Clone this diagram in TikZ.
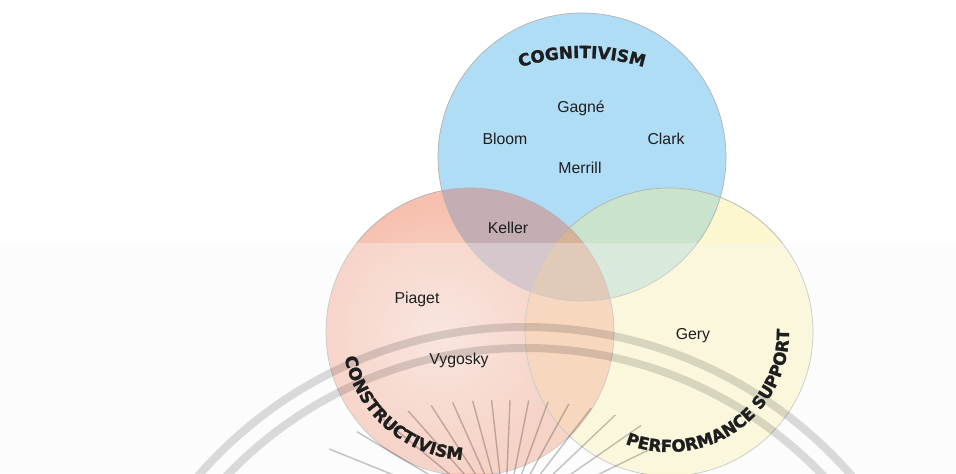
\documentclass[tikz,border=0pt]{standalone}
\usepackage{fontspec}
\setmainfont{Liberation Sans}
\newfontfamily\titlefont[BoldFeatures={FakeBold=1.6}]{DejaVu Sans}
\usepackage{xcolor}
\usetikzlibrary{
  calc,
  decorations.text
}
\definecolor{cogblue}{RGB}{176,221,246}
\definecolor{conred}{RGB}{246,192,174}
\definecolor{conglow}{RGB}{251,221,211}
\definecolor{perfyellow}{RGB}{253,247,208}
\definecolor{bluered}{RGB}{196,174,180}
\definecolor{blueyellow}{RGB}{201,227,204}
\definecolor{redyellow}{RGB}{249,198,162}
\definecolor{allthree}{RGB}{214,179,150}
\definecolor{wmgray}{RGB}{220,220,220}
\definecolor{raygray}{RGB}{196,196,196}
\definecolor{inkblack}{RGB}{30,30,30}
\newcommand{\vennr}{144}
\tikzset{
  line cap=round,
  line join=round,
  ring/.style={draw=black!30, line width=0.4pt},
  person/.style={font=\fontsize{9}{10}\selectfont, text=inkblack, inner sep=0pt},
  band/.style={draw=wmgray, line width=0.16cm},
  ray/.style={draw=raygray, line width=0.8pt},
  arctitle/.style={decorate, decoration={text along path, text align=center,
      text color=inkblack,
      text={|\titlefont\bfseries\fontsize{9.5}{11}\selectfont|#1}}}
}

\begin{document}
\begin{tikzpicture}[x=0.02cm, y=0.02cm]
    \useasboundingbox (0,0) rectangle (956,473);
    \fill[white] (0,0) rectangle (956,473);

    % circle centres
    \coordinate (cog) at (582,316);
    \coordinate (con) at (470,141);
    \coordinate (perf) at (669,141);

    % plain fills
    \fill[cogblue] (cog) circle[radius=\vennr];
    \fill[conred] (con) circle[radius=\vennr];
    \begin{scope}
        \clip (con) circle[radius=\vennr];
        \shade[inner color=conglow, outer color=conred] (440,140) circle[radius=130];
    \end{scope}
    \fill[perfyellow] (perf) circle[radius=\vennr];

    % overlaps
    \begin{scope}
        \clip (cog) circle[radius=\vennr];
        \fill[blueyellow] (perf) circle[radius=\vennr];
    \end{scope}
    \begin{scope}
        \clip (con) circle[radius=\vennr];
        \fill[bluered] (cog) circle[radius=\vennr];
        \fill[redyellow] (perf) circle[radius=\vennr];
        \clip (cog) circle[radius=\vennr];
        \fill[allthree] (perf) circle[radius=\vennr];
    \end{scope}

    \draw[ring] (cog) circle[radius=\vennr];
    \draw[ring] (con) circle[radius=\vennr];
    \draw[ring] (perf) circle[radius=\vennr];

    % faint lower band
    \fill[black!3, opacity=0.35] (0,0) rectangle (956,230);

    % watermark
    \begin{scope}[blend mode=multiply]
        \clip (0,0) rectangle (956,473);
        \coordinate (wm) at (525,-287);
        \draw[band] (wm) circle[radius=433];
        \draw[band] (wm) circle[radius=412];
        \coordinate (focus) at (505,-47);
        \foreach \a in {26,34.8,...,159} {
            \pgfmathsetmacro{\rout}{120+0.015*(\a-90)^2}
            \draw[ray] (focus) -- ++(\a:\rout);
        }
    \end{scope}

    % titles along the rims
    \path[arctitle=COGNITIVISM] (582,201) ++(112:214) arc[start angle=112, end angle=68, radius=214];
    \path[arctitle=CONSTRUCTIVISM] (con) ++(184:128) arc[start angle=184, end angle=274, radius=128];
    \path[arctitle=PERFORMANCE SUPPORT] (perf) ++(243:120) arc[start angle=243, end angle=367, radius=120];

    % names
    \node[person] (gagne) at (581,365) {Gagné};
    \node[person] (bloom) at (505,334) {Bloom};
    \node[person] (clark) at (666,334) {Clark};
    \node[person] (merrill) at (580,305) {Merrill};
    \node[person] (keller) at (508,245) {Keller};
    \node[person] (piaget) at (417,174) {Piaget};
    \node[person] (vygosky) at (459,113) {Vygosky};
    \node[person] (gery) at (693,137) {Gery};
\end{tikzpicture}
\end{document}
